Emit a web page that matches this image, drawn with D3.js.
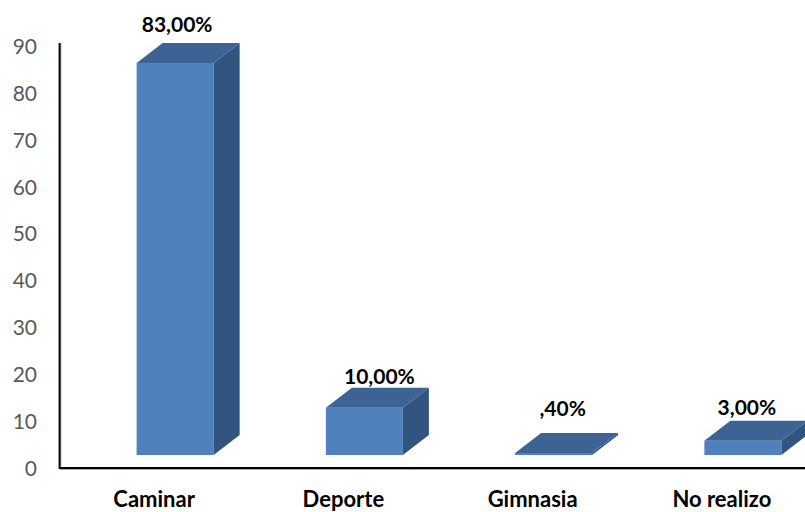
<!DOCTYPE html>
<html><head><meta charset="utf-8">
<script src="https://cdn.jsdelivr.net/npm/d3@7/dist/d3.min.js"></script>
<style>html,body{margin:0;padding:0;background:#fff;overflow:hidden}svg{display:block}</style>
</head><body><svg id="c" width="805" height="512"></svg>
<script>
const categories = ["Caminar","Deporte","Gimnasia","No realizo"];
const values = [83,10,0.4,3];
const valueLabels = ["83,00%","10,00%",",40%","3,00%"];
const tickValues = [0,10,20,30,40,50,60,70,80,90];

const svg = d3.select("#c");
const font = "Lato, Carlito, 'Open Sans', sans-serif";
const depthX = 26, depthY = 20, baseLift = 13;
const labelShift = [[2,0],[15,7],[9,-6],[4,5]];

const x = d3.scaleBand().domain(categories).range([80.5,837.5]).paddingInner(0.593).paddingOuter(0.2965);
const yAxisScale = d3.scaleLinear().domain([0,90]).range([468,46]);
const barH = d3.scaleLinear().domain([0,83]).range([0,392]);
const baseY = yAxisScale(0) - baseLift;

const defs = svg.append("defs");
defs.append("filter").attr("id","soft").attr("x","-5%").attr("y","-5%").attr("width","110%").attr("height","110%")
  .append("feGaussianBlur").attr("stdDeviation",0.45);

// axes
const gy = svg.append("g").attr("transform","translate(37,0)")
  .call(d3.axisLeft(yAxisScale).tickValues(tickValues).tickSize(0).tickPadding(0));
gy.select(".domain").remove();
gy.selectAll("text").attr("font-family",font).attr("font-size",21).attr("fill","#595959").attr("dy","0.35em");

svg.append("path").attr("d","M60.5,43V469H805").attr("fill","none").attr("stroke","#8a8a8a").attr("stroke-width",1.5);
svg.append("path").attr("d","M59.5,43V468H805").attr("fill","none").attr("stroke","#000").attr("stroke-width",1.8);

// bars
const bars = svg.append("g").attr("filter","url(#soft)").selectAll("g").data(categories).join("g");
const geom = (c,i)=>{const l=x(c),r=l+x.bandwidth(),t=baseY-barH(values[i]);return {l,r,t,b:baseY};};
bars.append("path").attr("fill","#4f81bd")
  .attr("d",(c,i)=>{const g=geom(c,i);return `M${g.l},${g.t}H${g.r}V${g.b}H${g.l}Z`;});
bars.append("path").attr("fill","#325480")
  .attr("d",(c,i)=>{const g=geom(c,i);return `M${g.r},${g.t}L${g.r+depthX},${g.t-depthY}V${g.b-depthY}L${g.r},${g.b}Z`;});
bars.append("path").attr("fill","#3c6494")
  .attr("d",(c,i)=>{const g=geom(c,i);return `M${g.l},${g.t}L${g.l+depthX},${g.t-depthY}H${g.r+depthX}L${g.r},${g.t}Z`;});

// value labels
svg.append("g").selectAll("text").data(categories).join("text")
  .attr("x",(c,i)=>x(c)+x.bandwidth()/2+labelShift[i][0])
  .attr("y",(c,i)=>baseY-barH(values[i])-depthY-11+labelShift[i][1])
  .attr("text-anchor","middle").attr("font-family",font).attr("font-weight",700).attr("font-size",21).attr("fill","#000")
  .text((c,i)=>valueLabels[i]);

// category labels
svg.append("g").selectAll("text").data(categories).join("text")
  .attr("x",c=>x(c)+x.bandwidth()/2-21)
  .attr("y",507)
  .attr("text-anchor","middle").attr("font-family",font).attr("font-weight",700).attr("font-size",22).attr("fill","#000")
  .text(c=>c);
</script></body></html>
